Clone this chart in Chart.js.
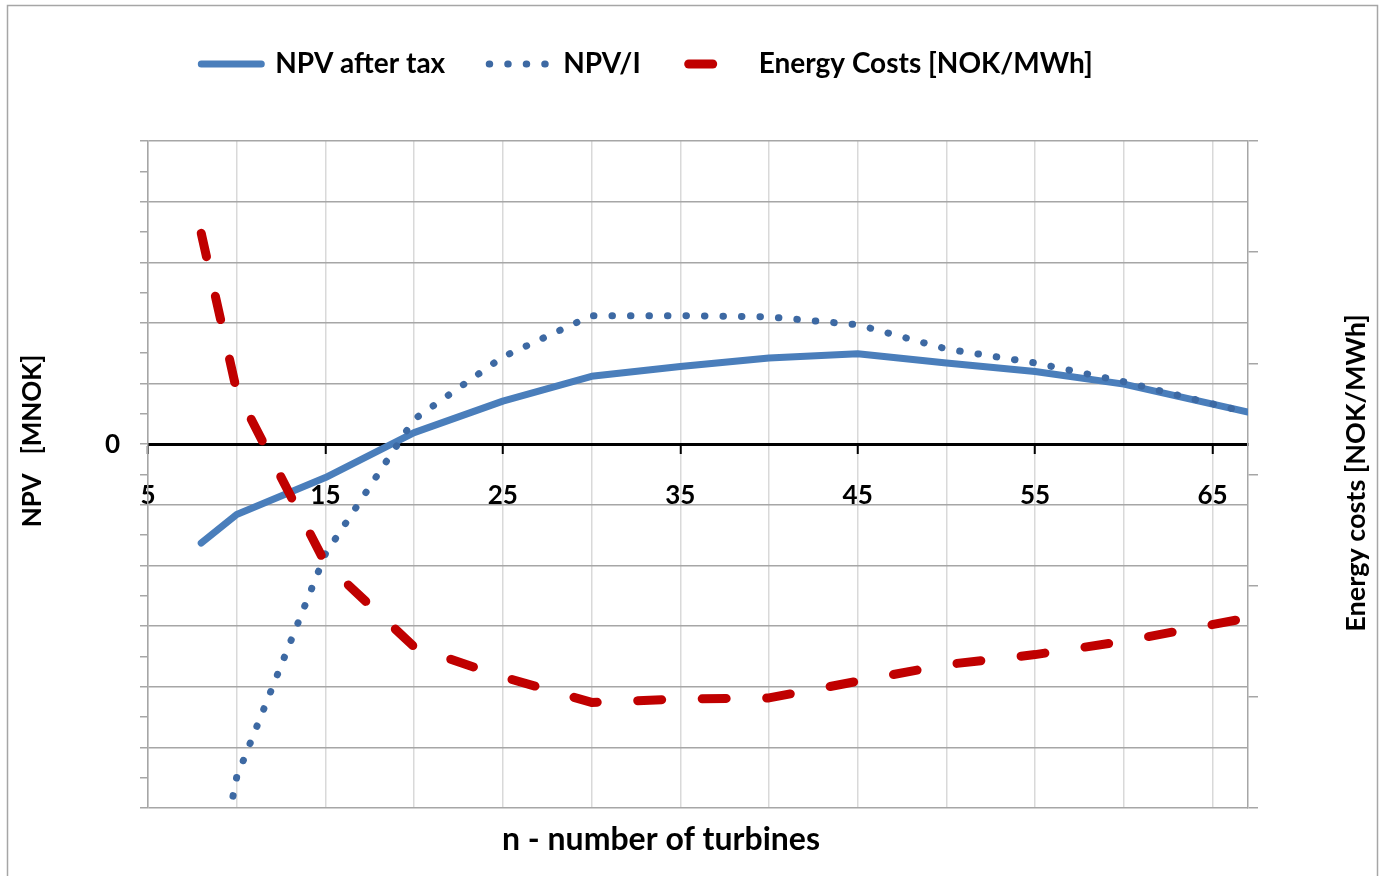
<!DOCTYPE html>
<html lang="en">
<head>
  <meta charset="UTF-8">
  <title>NPV and energy costs vs number of turbines</title>
  <script src="https://cdn.jsdelivr.net/npm/chart.js"></script>
  <style>
    html, body { margin: 0; padding: 0; background: #fff; }
    #wrap { position: relative; width: 1385px; height: 876px; }
  </style>
</head>
<body>
  <div id="wrap"><canvas id="turbineChart"></canvas></div>

  <script>
    // n - number of turbines
    const turbines = [8, 10, 15, 20, 25, 30, 35, 40, 45, 50, 55, 60, 67];

    // left axis (one gridline = one unit, labels hidden except 0)
    const npvAfterTax = [-1.63, -1.16, -0.55, 0.19, 0.71, 1.12, 1.28, 1.42, 1.49, 1.34, 1.20, 0.99, 0.53];
    const npvPerI = [-8.5, -5.49, -1.81, 0.41, 1.44, 2.12, 2.12, 2.10, 1.97, 1.57, 1.34, 1.03, 0.52];

    // right axis
    const energyCosts = [5.17, 3.75, 2.20, 1.45, 1.18, 0.95, 0.98, 0.99, 1.14, 1.29, 1.38, 1.50, 1.71];

    const xLabelTicks = [5, 15, 25, 35, 45, 55, 65];
    const zeroLabel = '0';

    const seriesNames = ['NPV after tax', 'NPV/I', 'Energy Costs [NOK/MWh]'];
    const xTitle = 'n - number of turbines';
    const yTitle = 'NPV   [MNOK]';
    const y1Title = 'Energy costs [NOK/MWh]';

    const padL = 0, padR = 91;
    const plotRight = 1248;

    const toPoints = (values) => values.map((v, i) => ({ x: turbines[i], y: v }));
    const boldFont = (size) => ({ family: 'Lato', weight: 'bold', size: size });

    // dash phase for each legend sample
    const legendDashOffset = [0, 0, 60.5];

    // frame, extra legend gap, and the axis titles (both side titles read bottom-to-top)
    const frameAndTitles = {
      id: 'frameAndTitles',
      beforeInit(chart) {
        const fit = chart.legend.fit;
        chart.legend.fit = function () {
          fit.call(this);
          this.height += 53;
        };
      },
      beforeDraw(chart) {
        const ctx = chart.ctx;
        ctx.save();
        ctx.strokeStyle = '#a6a6a6';
        ctx.lineWidth = 1.5;
        ctx.strokeRect(7.5, 5.5, 1370, 900);
        ctx.restore();
      },
      afterDraw(chart) {
        const ctx = chart.ctx;
        const a = chart.chartArea;
        ctx.save();
        ctx.fillStyle = '#000';
        ctx.textAlign = 'center';
        ctx.textBaseline = 'middle';

        ctx.font = 'bold 32px Lato';
        ctx.fillText(xTitle, a.left + 513, a.bottom + 32);

        ctx.font = 'bold 26px Lato';
        ctx.save();
        ctx.translate(a.left - 115, a.top + 300);
        ctx.rotate(-Math.PI / 2);
        ctx.fillText(yTitle, 0, 0);
        ctx.restore();

        ctx.font = 'bold 27px Lato';
        ctx.save();
        ctx.translate(a.right + 108, a.top + 332);
        ctx.rotate(-Math.PI / 2);
        ctx.fillText(y1Title, 0, 0);
        ctx.restore();

        ctx.restore();
      }
    };

    const ctx = document.getElementById('turbineChart');
    new Chart(ctx, {
      type: 'line',
      data: {
        datasets: [{
          label: seriesNames[0],
          data: toPoints(npvAfterTax),
          yAxisID: 'y',
          borderColor: '#4a7ebb',
          borderWidth: 7,
          borderCapStyle: 'round',
          borderJoinStyle: 'round',
          pointRadius: 0,
          tension: 0,
          order: 3
        }, {
          label: seriesNames[1],
          data: toPoints(npvPerI),
          yAxisID: 'y',
          borderColor: '#3d69a3',
          borderWidth: 7,
          borderDash: [0.5, 18],
          borderCapStyle: 'round',
          borderJoinStyle: 'round',
          pointRadius: 0,
          tension: 0,
          order: 2
        }, {
          label: seriesNames[2],
          data: toPoints(energyCosts),
          yAxisID: 'y1',
          borderColor: '#c00000',
          borderWidth: 9,
          borderDash: [24, 40.5],
          borderCapStyle: 'round',
          borderJoinStyle: 'round',
          pointRadius: 0,
          tension: 0,
          order: 1
        }]
      },
      options: {
        responsive: true,
        maintainAspectRatio: false,
        animation: false,
        layout: { padding: { left: padL, right: padR, top: 6, bottom: 68 } },
        scales: {
          x: {
            type: 'linear',
            position: { y: 0 },
            min: 5,
            max: 67,
            grid: {
              color: '#d9d9d9',
              lineWidth: 1.5,
              tickLength: 8,
              tickWidth: 2,
              tickColor: (c) => xLabelTicks.includes(c.tick.value) ? '#000' : 'rgba(0,0,0,0)'
            },
            border: { color: '#000', width: 3 },
            ticks: {
              stepSize: 5,
              includeBounds: false,
              autoSkip: false,
              maxRotation: 0,
              padding: 28,
              color: '#000',
              font: boldFont(26),
              callback: (v) => xLabelTicks.includes(v) ? String(v) : ''
            }
          },
          y: {
            position: 'left',
            min: -6,
            max: 5,
            afterFit: (s) => { s.width = 148 - padL; },
            grid: {
              color: (c) => (c.tick.value % 1 === 0 && c.tick.value !== 0) ? '#a6a6a6' : 'rgba(0,0,0,0)',
              lineWidth: 1.5,
              tickLength: 8,
              tickColor: '#a6a6a6'
            },
            border: { color: '#a6a6a6', width: 1.5 },
            ticks: {
              stepSize: 0.5,
              autoSkip: false,
              padding: 20,
              color: '#000',
              font: boldFont(26),
              callback: (v) => v === 0 ? zeroLabel : ''
            }
          },
          y1: {
            position: 'right',
            min: 0,
            max: 6,
            afterFit: (s) => { s.width = 1385 - padR - plotRight; },
            grid: { drawOnChartArea: false, tickLength: 10, tickColor: '#a6a6a6', lineWidth: 1.5 },
            border: { color: '#a6a6a6', width: 1.5 },
            ticks: { stepSize: 1, display: false }
          }
        },
        plugins: {
          legend: {
            position: 'top',
            labels: {
              usePointStyle: true,
              pointStyle: 'line',
              pointStyleWidth: 60,
              padding: 44,
              color: '#000',
              font: boldFont(28),
              generateLabels: (chart) => chart.data.datasets.map((ds, i) => ({
                text: ds.label,
                fontColor: '#000',
                fillStyle: ds.borderColor,
                strokeStyle: ds.borderColor,
                lineWidth: ds.borderWidth,
                lineDash: ds.borderDash || [],
                lineDashOffset: legendDashOffset[i],
                lineCap: ds.borderCapStyle,
                lineJoin: 'round',
                pointStyle: 'line',
                hidden: false,
                datasetIndex: i
              }))
            }
          },
          tooltip: { enabled: false }
        }
      },
      plugins: [frameAndTitles]
    });
  </script>
</body>
</html>
